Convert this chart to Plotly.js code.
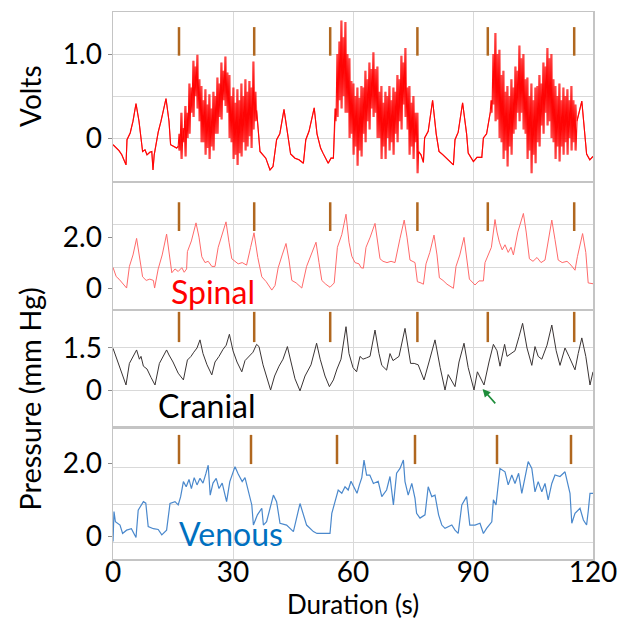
<!DOCTYPE html>
<html>
<head>
<meta charset="utf-8">
<script src="https://cdn.plot.ly/plotly-3.0.1.min.js"></script>
<style>html,body{margin:0;padding:0;background:#fff;}#chart{width:618px;height:621px;}</style>
</head>
<body>
<div id="chart"></div>
<script>
// ---------------- DATA ----------------
const xTickVals = [0, 30, 60, 90, 120];
const xTickText = ['0', '30', '60', '90', '120'];

// Volts: slow waveform outside the bursts [time s, volts]
const voltsBase = [
 [0,-0.08],[0.8,-0.12],[1.5,-0.15],[2.2,-0.2],[3.0,-0.28],[3.25,-0.32],[3.5,-0.02],[4.3,0.06],[5.0,0.2],[5.75,0.41],
 [6.5,0.2],[7.0,-0.05],[7.4,-0.16],[8.0,-0.14],[8.5,-0.2],[9.2,-0.17],[9.7,-0.16],[10.0,-0.38],[10.3,-0.2],[11.3,0.07],
 [12.0,0.2],[13.25,0.47],[14.0,0.2],[14.4,-0.08],[15.2,-0.1],[15.9,-0.12],[16.3,-0.1],
 [35.9,0.33],[36.75,-0.16],[37.5,-0.2],[38.2,-0.24],[39.25,-0.38],[40.0,-0.34],[40.9,-0.02],[41.7,0.05],[42.75,0.34],[43.5,0.1],
 [44.0,-0.1],[44.4,-0.19],[45.5,-0.24],[46.5,-0.26],[47.6,-0.3],[48.2,-0.02],[49.0,0.08],[50.3,0.36],[51.0,0.05],[51.9,-0.12],
 [52.5,-0.18],[53.8,-0.3],[54.5,-0.24],[55.1,-0.24],
 [76.4,-0.16],[77.0,-0.2],[77.6,-0.29],[77.9,0.0],[78.8,0.08],[79.9,0.45],[80.8,0.05],[81.5,-0.16],[82.5,-0.2],[83.8,-0.26],
 [85.1,-0.32],[85.5,-0.02],[86.3,0.07],[87.4,0.42],[88.4,0.05],[88.8,-0.18],[90.1,-0.28],[91.0,-0.23],[92.2,-0.23],[92.6,0.0],
 [93.4,0.05],[94.3,0.3],
 [116.0,0.2],[117.2,0.44],[118.0,0.0],[118.4,-0.19],[119.2,-0.26],[120,-0.22]
];

// Volts bursts: start time, sample step, upper and lower swing values
const burstStarts = [16.5, 55.5, 94.5];
const burstStep = 0.5;
const burst1Hi = [0.05,0.3,0.12,0.38,0.3,0.65,0.6,0.92,0.85,0.99,0.7,0.62,0.45,0.58,0.4,0.52,0.35,0.55,0.5,0.72,0.65,0.9,0.8,0.97,0.78,0.75,0.5,0.6,0.42,0.58,0.45,0.65,0.5,0.7,0.55,0.68,0.6,0.91,0.55];
const burst1Lo = [-0.15,-0.25,-0.05,-0.22,0.0,0.05,0.3,0.25,0.5,0.35,0.2,-0.05,-0.05,-0.2,-0.12,-0.25,-0.1,-0.15,0.05,0.05,0.25,0.22,0.45,0.38,0.3,0.0,-0.05,-0.25,-0.2,-0.32,-0.18,-0.22,-0.05,-0.15,-0.1,0.02,-0.12,0.1,0.2];
const burst2Hi = [0.35,1.0,1.15,1.4,1.2,1.38,1.0,0.95,0.68,0.65,0.5,0.6,0.48,0.62,0.6,0.8,0.7,0.9,0.82,1.02,0.82,0.85,0.55,0.62,0.42,0.55,0.5,0.62,0.45,0.6,0.55,0.75,0.7,0.98,0.9,1.07,0.6,0.62,0.42,0.5,0.3,0.3];
const burst2Lo = [0.2,0.25,0.45,0.35,0.5,0.3,0.3,0.0,0.05,-0.2,-0.1,-0.33,-0.15,-0.22,0.05,-0.05,0.2,0.1,0.35,0.25,0.3,0.0,0.0,-0.25,-0.1,-0.25,0.0,-0.15,-0.05,-0.2,0.05,-0.05,0.2,0.1,0.4,0.25,0.1,-0.2,-0.1,-0.25,-0.05,-0.42];
const burst3Hi = [0.45,1.0,1.25,1.0,1.05,0.75,0.8,0.55,0.62,0.5,0.7,0.6,0.85,0.8,1.1,0.95,1.0,0.7,0.72,0.5,0.65,0.45,0.6,0.62,0.75,0.65,0.9,0.85,1.07,0.95,1.0,0.7,0.62,0.5,0.65,0.45,0.6,0.5,0.58,0.45,0.62,0.45,0.4];
const burst3Lo = [0.3,0.4,0.2,0.22,0.0,-0.05,-0.25,-0.15,-0.34,-0.1,-0.2,0.05,0.1,0.3,0.2,0.3,0.1,0.05,-0.25,-0.15,-0.42,-0.2,-0.3,-0.05,-0.1,0.15,0.05,0.3,0.15,0.2,0.0,-0.05,-0.25,-0.1,-0.28,-0.1,-0.2,-0.05,-0.2,0.0,-0.15,-0.05,-0.15];

// Spinal pressure [time s, mm Hg]
const spinal = [
 [0,0.81],[0.8,0.45],[1.5,0.35],[2.5,0.15],[3.4,0.0],[4.1,0.85],[5.0,1.3],[5.9,1.95],[6.6,1.2],[7.4,0.44],[8.3,0.3],[9.2,0.35],[10.1,0.3],[10.4,0.0],
 [11.3,0.75],[12.3,1.3],[13.4,2.12],[14.0,1.4],[14.7,0.6],[15.5,0.75],[16.3,0.65],[17.2,0.8],[17.8,0.62],[18.4,0.75],[18.6,1.43],[19.6,1.85],
 [20.75,2.56],[21.5,2.0],[22.2,1.23],[23.0,1.0],[23.8,1.05],[24.7,0.85],[25.5,0.85],[26.3,1.6],[27.2,2.1],[28.25,2.6],[29.0,1.8],[29.7,1.15],
 [30.5,1.05],[31.3,0.95],[32.3,1.0],[33.4,0.9],[34.4,1.6],[35.25,2.17],[36.2,1.2],[37.2,0.44],[38.3,0.25],[39.7,-0.08],[40.5,0.1],[41.3,0.8],
 [42.3,1.3],[43.25,1.75],[44.0,1.1],[44.7,0.3],[45.8,0.2],[47.2,0.0],[48.4,0.85],[49.5,1.3],[50.75,1.8],[51.5,1.0],[52.2,0.3],[53.2,0.15],
 [54.25,0.03],[55.3,0.2],[56.1,1.6],[57.2,2.1],[58.25,2.9],[59.0,1.8],[59.7,1.25],[60.5,1.0],[61.5,0.95],[62.0,0.8],[62.6,0.78],[63.25,1.6],
 [64.3,2.0],[65.5,2.54],[66.2,1.8],[66.75,1.15],[67.5,1.05],[68.5,1.0],[69.5,1.05],[70.5,1.0],[71.75,1.95],[72.8,2.67],[73.5,2.0],[74.25,1.1],
 [75.5,1.0],[76.1,0.25],[77.0,0.2],[77.6,0.15],[78.25,0.95],[79.2,1.4],[80.25,2.08],[81.0,1.3],[81.6,0.4],[82.5,0.3],[83.5,0.15],[85.1,-0.01],
 [85.75,0.85],[86.7,1.3],[87.75,1.99],[88.4,1.2],[89.1,0.35],[90.5,0.12],[91.5,0.28],[92.6,0.28],[93.0,1.0],[94.6,1.6],[95.5,2.69],[96.0,2.2],
 [96.6,1.8],[97.3,1.5],[98.0,1.7],[98.8,1.4],[99.5,1.6],[100.1,1.3],[101.2,2.2],[102.6,2.93],[103.3,2.2],[104.1,1.15],[105.0,1.05],[106.0,1.2],
 [107.0,1.0],[108.0,1.1],[108.8,1.8],[109.7,2.67],[110.5,1.9],[111.3,1.1],[112.3,1.0],[113.5,1.05],[114.5,0.9],[115.5,0.7],[116.1,1.23],
 [117.4,2.14],[118.2,1.4],[118.8,0.2],[120,0.17]
];

// Cranial pressure [time s, mm Hg]
const cranial = [
 [0,1.49],[1.2,1.0],[2.3,0.5],[3.25,0.18],[4.1,0.95],[5.0,1.2],[5.9,1.43],[6.6,1.1],[7.0,1.2],[7.6,0.85],[8.5,0.75],[9.5,0.45],[10.5,0.18],
 [11.6,0.95],[12.5,1.2],[13.4,1.43],[14.0,1.25],[15.0,1.0],[16.3,0.6],[17.6,0.36],[18.6,1.07],[19.5,1.2],[20.2,1.35],[21.0,1.5],[21.75,1.79],
 [22.5,1.3],[23.5,0.9],[24.7,0.54],[25.5,1.0],[26.5,1.2],[27.5,1.45],[28.3,1.6],[29.1,1.99],[30.0,1.4],[31.0,1.0],[32.2,0.65],[33.0,1.05],
 [34.0,1.2],[35.0,1.35],[35.9,1.63],[36.5,1.55],[37.5,0.9],[38.5,0.4],[39.4,0.0],[40.4,0.5],[41.5,0.85],[42.5,1.1],[43.6,1.55],[44.5,1.0],
 [45.5,0.4],[46.75,-0.03],[48.0,0.5],[49.5,0.9],[50.9,1.67],[51.8,1.1],[53.0,0.5],[54.1,0.12],[55.1,0.36],[56.0,0.75],[57.0,1.1],[58.25,2.26],
 [59.0,1.3],[60.0,0.8],[60.9,0.65],[61.75,1.2],[62.5,1.1],[63.4,1.15],[64.25,1.2],[65.5,2.14],[66.5,1.3],[67.2,0.88],[68.4,0.71],[69.25,1.3],
 [70.0,1.05],[71.5,1.2],[73.0,2.2],[74.4,0.95],[75.3,0.95],[76.3,0.9],[77.75,0.36],[79.0,1.0],[80.5,1.79],[81.8,0.8],[83.0,0.0],[83.8,0.55],
 [85.5,0.12],[86.5,1.0],[87.75,1.67],[88.8,0.8],[90.25,0.0],[91.1,0.65],[92.75,0.18],[94.0,1.0],[95.1,1.63],[96.0,1.4],[96.75,0.85],[97.9,1.63],
 [98.5,1.2],[99.5,1.3],[100.5,1.4],[101.5,1.9],[102.4,2.38],[103.5,1.5],[104.7,0.88],[105.5,1.55],[106.3,1.2],[107.2,1.1],[108.5,1.6],
 [109.7,2.32],[110.8,1.4],[111.75,0.88],[113.0,1.5],[114.0,1.2],[115.5,0.72],[116.3,1.3],[117.2,1.86],[118.2,1.2],[119.25,0.18],[120,0.65]
];

// Venous pressure [time s, mm Hg]
const venous = [
 [0,-0.15],[0.25,0.67],[0.6,0.39],[1.75,0.3],[2.4,0.07],[3.4,0.16],[4.6,0.2],[5.75,-0.04],[6.3,0.71],[7.6,0.94],[8.2,0.9],[8.8,0.26],
 [10.1,0.2],[11.3,0.18],[12.2,0.03],[13.4,0.16],[14.25,0.89],[15.5,0.94],[16.3,0.85],[16.9,1.07],[17.6,1.49],[18.3,1.35],[19.0,1.55],
 [19.6,1.3],[20.3,1.6],[21.0,1.4],[21.75,1.58],[22.5,1.45],[23.2,1.7],[23.8,1.94],[24.3,1.12],[25.0,1.45],[25.8,1.58],[26.5,1.3],[27.3,1.45],
 [28.4,0.94],[29.2,1.49],[30.5,1.9],[31.3,1.7],[32.3,1.49],[33.0,1.6],[33.8,1.26],[34.7,0.85],[35.1,0.3],[36.1,0.58],[37.2,0.76],[37.6,0.3],
 [38.4,0.39],[40.1,1.12],[40.9,0.94],[41.75,0.35],[43.4,0.3],[45.1,0.12],[46.75,0.89],[47.6,0.58],[48.4,0.3],[50.1,0.12],[51.0,0.07],
 [54.25,0.07],[54.7,0.62],[56.3,1.26],[57.2,1.17],[58.0,1.35],[58.8,1.26],[59.5,1.5],[60.1,1.35],[61.0,1.17],[61.6,1.4],[62.2,1.6],[62.75,2.08],
 [63.4,1.67],[64.2,1.67],[65.1,1.44],[66.3,1.5],[67.2,1.08],[68.4,1.26],[69.25,1.63],[70.1,0.85],[70.9,1.72],[71.75,1.85],[72.6,2.08],
 [73.0,1.49],[73.8,1.12],[74.7,1.44],[75.5,1.03],[75.9,0.62],[76.75,0.49],[78.0,0.58],[78.8,1.35],[79.7,1.08],[80.5,1.12],[81.4,0.58],
 [82.2,0.3],[83.0,0.21],[84.7,0.3],[85.5,0.16],[86.3,0.07],[87.2,0.85],[88.4,1.08],[89.2,0.3],[90.5,0.3],[91.75,0.35],[92.6,0.07],[93.4,0.21],
 [94.7,0.39],[95.1,0.99],[95.75,0.85],[96.75,1.85],[98.0,1.76],[98.8,1.4],[99.7,1.67],[100.5,1.44],[101.4,1.72],[102.2,1.17],[103.0,1.58],
 [103.8,2.04],[104.7,1.85],[105.5,1.21],[106.3,1.49],[107.2,1.21],[108.0,1.44],[108.8,0.99],[109.7,1.44],[110.5,1.67],[111.75,1.63],
 [113.0,1.76],[114.25,1.17],[114.7,0.35],[115.5,0.62],[116.75,0.76],[117.6,0.44],[118.4,0.3],[118.8,0.67],[119.25,1.17],[120,1.17]
];

// Event markers (time s) and vertical spans per panel
const markerTimes = [16.5, 35.3, 54.3, 76.1, 93.7, 115.3];
const venousMarkerTimes = [16.5, 34.5, 56.0, 75.5, 96.0, 114.5];
const markerSpanVolts = [0.98, 1.32];
const markerSpanSpinal = [2.24, 3.37];
const markerSpanCranial = [1.71, 2.79];
const markerSpanVenous = [1.97, 2.77];

// ---------------- BUILD ----------------
// swing between the read upper and lower values; 'flip' draws the opposite phase
function zig(start, step, hi, lo, flip) {
  const pts = [];
  for (let i = 0; i < hi.length; i++) {
    const a = flip ? lo[i] : hi[i], b = flip ? hi[i] : lo[i];
    pts.push([start + i * step, a]);
    pts.push([start + i * step + step / 2, b]);
  }
  return pts;
}
function voltsSeries(flip) {
  return voltsBase
    .concat(zig(burstStarts[0], burstStep, burst1Hi, burst1Lo, flip))
    .concat(zig(burstStarts[1], burstStep, burst2Hi, burst2Lo, flip))
    .concat(zig(burstStarts[2], burstStep, burst3Hi, burst3Lo, flip))
    .sort((a, b) => a[0] - b[0]);
}

function line(pts, xa, ya, color, width) {
  return {type: 'scatter', mode: 'lines', x: pts.map(p => p[0]), y: pts.map(p => p[1]),
    xaxis: xa, yaxis: ya, line: {color: color, width: width}, hoverinfo: 'skip', showlegend: false};
}
function markers(times, span, xa, ya) {
  const x = [], y = [];
  times.forEach(t => { x.push(t, t, null); y.push(span[0], span[1], null); });
  return {type: 'scatter', mode: 'lines', x: x, y: y, xaxis: xa, yaxis: ya,
    line: {color: '#b0671f', width: 2.5}, hoverinfo: 'skip', showlegend: false};
}

const traces = [
  line(voltsSeries(true), 'x', 'y', 'rgba(255,0,0,0.7)', 1.1),
  line(voltsSeries(false), 'x', 'y', 'rgba(255,0,0,0.95)', 1.1),
  line(spinal, 'x2', 'y2', '#ff6a6a', 1),
  line(cranial, 'x3', 'y3', '#3a3434', 1),
  line(venous, 'x4', 'y4', '#4a88cc', 1.2),
  markers(markerTimes, markerSpanVolts, 'x', 'y'),
  markers(markerTimes, markerSpanSpinal, 'x2', 'y2'),
  markers(markerTimes, markerSpanCranial, 'x3', 'y3'),
  markers(venousMarkerTimes, markerSpanVenous, 'x4', 'y4')
];

const FONT = 'Lato, "Open Sans", sans-serif';
const GRID = '#d9d9d9';
const FRAME = '#c4c4c4';
function xa(anchor, labels) {
  return {anchor: anchor, range: [0, 120], tickmode: 'array', tickvals: xTickVals, ticktext: xTickText,
    showgrid: true, gridcolor: GRID, gridwidth: 1, zeroline: false, showline: true, mirror: true,
    linecolor: FRAME, linewidth: 1.5, ticks: '', showticklabels: labels, ticklabelstandoff: -12,
    tickfont: {family: FONT, size: 28, color: '#000'}};
}
function ya(anchor, domain, range, tv, tt, grid, minorVals) {
  const a = {anchor: anchor, domain: domain, range: range, tickmode: 'array', tickvals: tv, ticktext: tt,
    showgrid: grid, gridcolor: GRID, gridwidth: 1, zeroline: false, showline: true, mirror: true,
    linecolor: FRAME, linewidth: 1.5, ticks: 'outside', ticklen: 4, tickcolor: '#8c8c8c', tickwidth: 1,
    tickfont: {family: FONT, size: 28, color: '#000'}};
  if (minorVals) a.minor = {tickmode: 'array', tickvals: minorVals, showgrid: true, gridcolor: GRID, gridwidth: 1, ticks: ''};
  return a;
}

const layout = {
  width: 618, height: 621,
  margin: {l: 113, r: 25, t: 12, b: 62},
  paper_bgcolor: '#fff', plot_bgcolor: '#fff',
  font: {family: FONT, color: '#000'},
  showlegend: false,
  xaxis: xa('y', false),
  xaxis2: Object.assign(xa('y2', false), {matches: 'x'}),
  xaxis3: Object.assign(xa('y3', false), {matches: 'x'}),
  xaxis4: Object.assign(xa('y4', true), {matches: 'x'}),
  yaxis: ya('x', [0.691, 1], [-0.512, 1.5], [0, 1], ['0', '1.0'], true, [0.5]),
  yaxis2: ya('x2', [0.457, 0.687], [-0.824, 4.118], [0, 2], ['0', '2.0'], false, [0.82, 2.51]),
  yaxis3: ya('x3', [0.2413, 0.4534], [-1.321, 2.821], [0, 1.5], ['0', '1.5'], true, null),
  yaxis4: ya('x4', [0, 0.2395], [-0.63, 2.959], [0, 2], ['0', '2.0'], false, [-0.19, 0.85, 1.89]),
  annotations: [
    {xref: 'paper', yref: 'paper', x: -0.173, y: 0.8464, text: 'Volts', textangle: -90, showarrow: false,
     xanchor: 'center', yanchor: 'middle', font: {family: FONT, size: 28, color: '#000'}},
    {xref: 'paper', yref: 'paper', x: -0.173, y: 0.293, text: 'Pressure (mm Hg)', textangle: -90, showarrow: false,
     xanchor: 'center', yanchor: 'middle', font: {family: FONT, size: 29, color: '#000'}},
    {xref: 'paper', yref: 'paper', x: 0.5, y: -0.0823, text: 'Duration (s)', showarrow: false,
     xanchor: 'center', yanchor: 'middle', font: {family: FONT, size: 26, color: '#000'}},
    {xref: 'x2', yref: 'y2', x: 25, y: -0.12, text: 'Spinal', showarrow: false,
     xanchor: 'center', yanchor: 'middle', font: {family: FONT, size: 32, color: '#ff0000'}},
    {xref: 'x3', yref: 'y3', x: 23.5, y: -0.54, text: 'Cranial', showarrow: false,
     xanchor: 'center', yanchor: 'middle', font: {family: FONT, size: 32, color: '#000'}},
    {xref: 'x4', yref: 'y4', x: 29.5, y: 0.07, text: 'Venous', showarrow: false,
     xanchor: 'center', yanchor: 'middle', font: {family: FONT, size: 32, color: '#0070c0'}},
    {xref: 'x3', yref: 'y3', x: 92.4, y: 0.04, text: '', showarrow: true, ax: 14, ay: 16,
     arrowcolor: '#1e8c3a', arrowhead: 2, arrowsize: 1, arrowwidth: 1.6}
  ]
};

Plotly.newPlot('chart', traces, layout, {staticPlot: true, displayModeBar: false});
</script>
</body>
</html>
